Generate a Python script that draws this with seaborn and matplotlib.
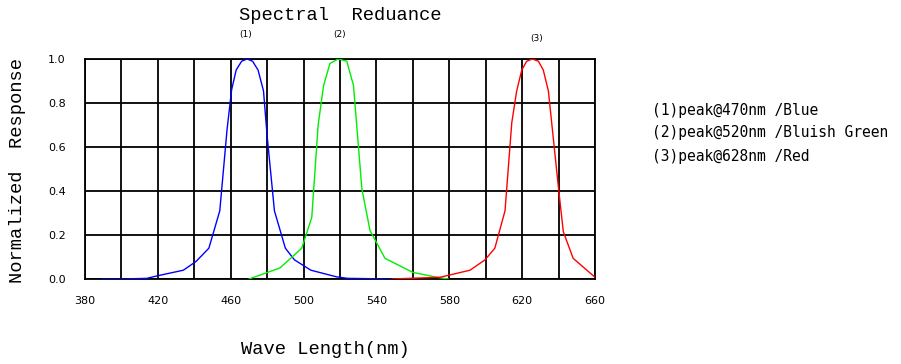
import matplotlib
matplotlib.use("Agg")
import matplotlib.pyplot as plt
import matplotlib.transforms as mtransforms
import seaborn as sns
import pandas as pd

# ---- data ----
blue_wl = [389, 400, 414, 420, 434, 441, 448, 454, 458, 460.5, 463, 466, 469, 472, 475, 478, 480, 484, 490, 495, 504, 518, 524, 548]
blue_val = [0.0, 0.0, 0.003, 0.015, 0.04, 0.08, 0.14, 0.31, 0.68, 0.86, 0.95, 0.99, 1.0, 0.99, 0.95, 0.855, 0.65, 0.31, 0.14, 0.087, 0.04, 0.01, 0.003, 0.0]

green_wl = [470, 487, 499, 504.5, 508, 511, 514.5, 519, 523.7, 527.4, 532, 536.5, 544.7, 560, 573, 579.5]
green_val = [0.0, 0.05, 0.14, 0.28, 0.70, 0.88, 0.98, 1.0, 0.99, 0.88, 0.41, 0.22, 0.094, 0.03, 0.008, 0.0]

red_wl = [548.4, 575, 591.4, 599.6, 605, 610.6, 614.3, 617, 619.8, 622.5, 625.6, 628.9, 631.6, 634.4, 640, 642.6, 648, 660]
red_val = [0.0, 0.008, 0.04, 0.087, 0.14, 0.31, 0.71, 0.855, 0.95, 0.99, 1.0, 0.99, 0.95, 0.855, 0.41, 0.215, 0.094, 0.008]

x_major = [380, 420, 460, 500, 540, 580, 620, 660]
x_minor = [400, 440, 480, 520, 560, 600, 640]
y_ticks = [0.0, 0.2, 0.4, 0.6, 0.8, 1.0]
peak_labels = ["(1)", "(2)", "(3)"]
peak_pos = [468, 520, 628]
legend_lines = ["(1)peak@470nm /Blue", "(2)peak@520nm /Bluish Green", "(3)peak@628nm /Red"]

sns.set_style("white")
plt.rcParams["text.color"] = "black"
plt.rcParams["axes.labelcolor"] = "black"
plt.rcParams["xtick.color"] = "black"
plt.rcParams["ytick.color"] = "black"

fig = plt.figure(figsize=(9.01, 3.64), dpi=100)
ax = fig.add_axes([85/901, 1-279/364, (595-85)/901, (279-59)/364])

df_b = pd.DataFrame({"wl": blue_wl, "v": blue_val})
df_g = pd.DataFrame({"wl": green_wl, "v": green_val})
df_r = pd.DataFrame({"wl": red_wl, "v": red_val})
sns.lineplot(data=df_b, x="wl", y="v", ax=ax, color="#0000ff", lw=1.0, sort=False, zorder=3)
sns.lineplot(data=df_g, x="wl", y="v", ax=ax, color="#00ee00", lw=1.0, sort=False, zorder=3)
sns.lineplot(data=df_r, x="wl", y="v", ax=ax, color="#ff0000", lw=1.0, sort=False, zorder=3)

ax.set_xlim(380, 660)
ax.set_ylim(0, 1.0)
ax.set_xticks(x_major)
ax.set_xticks(x_minor, minor=True)
ax.set_xticklabels([str(v) for v in x_major], fontsize=8, family="DejaVu Sans")
ax.set_yticks(y_ticks)
ax.set_yticklabels([f"{v:.1f}" for v in y_ticks], fontsize=8, family="DejaVu Sans")
ax.tick_params(axis="both", which="both", length=0, colors="black")
ax.tick_params(axis="x", pad=12)
ax.tick_params(axis="y", pad=14)
ax.grid(True, which="both", color="black", lw=1.3)
for s in ax.spines.values():
    s.set_color("black")
    s.set_linewidth(1.3)

ax.set_xlabel("Wave Length(nm)", family="Liberation Mono", fontsize=13.5, color="black")
ax.set_ylabel("Normalized  Response", family="Liberation Mono", fontsize=13.5, color="black")
ax.xaxis.set_label_coords((325-85)/510, (279-350)/220)
ax.yaxis.set_label_coords((18-85)/510, (279-170)/220)
ax.xaxis.label.set_va("center")
ax.yaxis.label.set_va("center")

fig.text(340/901, 1-15/364, "Spectral  Reduance", family="Liberation Mono", fontsize=13.5,
         ha="center", va="center", color="black")

tr = mtransforms.blended_transform_factory(ax.transData, fig.transFigure)
for lab, pos, yy in zip(peak_labels, peak_pos, [35, 35, 38]):
    ax.text(pos, 1-yy/364, lab, transform=tr, fontsize=6.5, ha="center", va="center", color="black")

for i, line in enumerate(legend_lines):
    fig.text(652/901, 1-(110+23*i)/364, line, family="DejaVu Sans Mono", fontsize=10.5,
             ha="left", va="center", color="black")

fig.savefig("out.png", dpi=100)
